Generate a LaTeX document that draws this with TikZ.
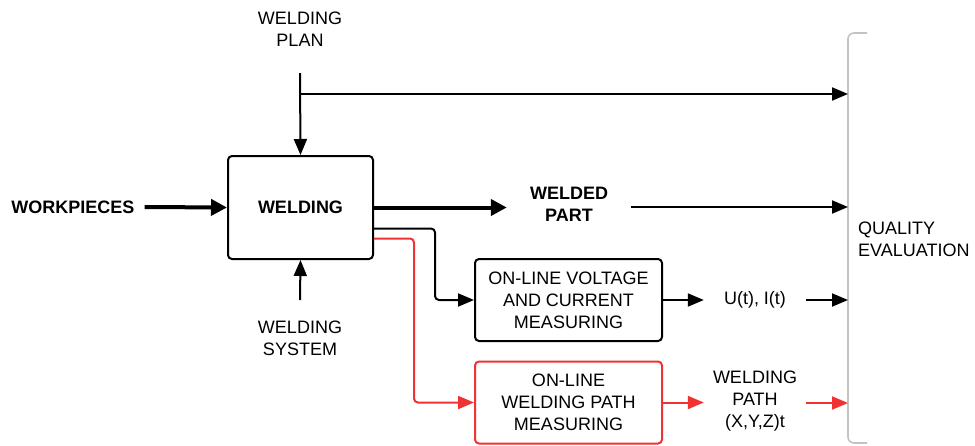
\documentclass[tikz,border=0pt]{standalone}
\usepackage{fontspec}
\setmainfont{Liberation Sans}
\usetikzlibrary{arrows.meta}
\definecolor{myred}{RGB}{240,50,50}
\definecolor{brgray}{RGB}{195,195,195}
\begin{document}
\begin{tikzpicture}[x=1pt,y=-1pt,
  font=\fontsize{18pt}{22pt}\selectfont,
  every node/.style={align=center,inner ysep=0pt},
  conn/.style={line width=2pt,-{Triangle[length=16pt,width=13pt]}},
  thickconn/.style={line width=4pt,-{Triangle[length=16pt,width=16pt]}},
  procbox/.style={draw,line width=2pt,rounded corners=4pt,minimum width=145pt,minimum height=103pt},
  measbox/.style={draw,line width=2pt,rounded corners=4pt,minimum width=187pt,minimum height=82pt}
]
\useasboundingbox (0,0) rectangle (975,445);
% nodes
\node[procbox,font=\fontsize{18pt}{22pt}\selectfont\bfseries] (weld) at (300.5,207.5) {WELDING};
\node[font=\fontsize{18pt}{22pt}\selectfont\bfseries,inner xsep=10pt] (wp) at (73,207) {WORKPIECES};
\node (plan) at (300,29) {WELDING\\PLAN};
\node (sys) at (300,338) {WELDING\\SYSTEM};
\node[font=\fontsize{18pt}{22pt}\selectfont\bfseries,inner xsep=23pt] (part) at (569,204) {WELDED\\PART};
\node[measbox] (vb) at (568.5,300) {ON-LINE VOLTAGE\\AND CURRENT\\MEASURING};
\node[measbox,draw=myred] (pb) at (568.5,402.5) {ON-LINE\\WELDING PATH\\MEASURING};
\node[inner xsep=20pt] (ui) at (755,300) {U(t), I(t)};
\node[inner xsep=9pt] (path) at (755,401) {WELDING\\PATH\\(X,Y,Z)t};
\node[align=left,anchor=west,inner sep=0pt] (qe) at (858,239) {QUALITY\\EVALUATION};
% coordinates
\coordinate (planend) at (300,73);
\coordinate (branch) at (300,94);
\coordinate (sysend) at (300,300);
\coordinate (q1) at (848,94);
\coordinate (q2) at (848,207);
\coordinate (q3) at (848,300);
\coordinate (q4) at (848,403);
% bracket
\draw[brgray,line width=1.6pt,rounded corners=6pt] (867,33) -- (848,33) -- (848,443) -- (867,443);
% connectors
\draw[thickconn] (wp.east) -- (weld.west);
\draw[thickconn] (weld.east) -- (weld.east -| part.west);
\draw[conn] (part.east |- q2) -- (q2);
\draw[conn] (planend) -- (weld.north);
\draw[conn] (branch) -- (q1);
\draw[conn] (sysend) -- (weld.south);
\draw[conn,rounded corners=4pt] ([yshift=-21pt]weld.east) -- ++(61,0) |- (vb.west);
\draw[conn,myred,rounded corners=4pt] ([yshift=-31pt]weld.east) -- ++(40,0) |- (pb.west);
\draw[conn] (vb.east) -- (ui.west);
\draw[conn] (ui.east) -- (q3);
\draw[conn,myred] (pb.east) -- (pb.east -| path.west);
\draw[conn,myred] (path.east |- q4) -- (q4);
\end{tikzpicture}
\end{document}
